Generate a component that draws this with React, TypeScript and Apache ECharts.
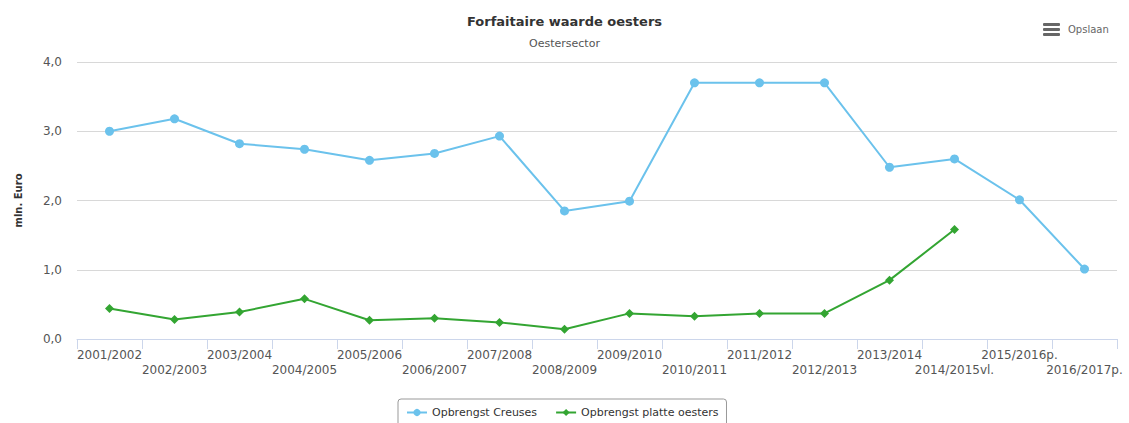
import React, { useEffect, useRef } from "react";
import * as echarts from "echarts";

const categories = [
  "2001/2002", "2002/2003", "2003/2004", "2004/2005", "2005/2006", "2006/2007",
  "2007/2008", "2008/2009", "2009/2010", "2010/2011", "2011/2012", "2012/2013",
  "2013/2014", "2014/2015vl.", "2015/2016p.", "2016/2017p.",
];
const creuses = [3.0, 3.18, 2.82, 2.74, 2.58, 2.68, 2.93, 1.85, 1.99, 3.7, 3.7, 3.7, 2.48, 2.6, 2.01, 1.01];
const platte = [0.44, 0.28, 0.39, 0.58, 0.27, 0.3, 0.24, 0.14, 0.37, 0.33, 0.37, 0.37, 0.85, 1.58, null, null];
const seriesNames = ["Opbrengst Creuses", "Opbrengst platte oesters"];
const titleText = "Forfaitaire waarde oesters";
const subtitleText = "Oestersector";
const yAxisName = "mln. Euro";

const FONT = "'DejaVu Sans', Verdana, sans-serif";

export default function App() {
  const ref = useRef<HTMLDivElement>(null);
  useEffect(() => {
    if (!ref.current) return;
    const chart = echarts.init(ref.current, undefined, { renderer: "svg" });
    chart.setOption({
      animation: false,
      textStyle: { fontFamily: FONT },
      title: [
        {
          text: titleText,
          left: "center",
          top: 10,
          textStyle: { fontFamily: FONT, fontSize: 13, fontWeight: "bold", color: "#333" },
        },
        {
          text: subtitleText,
          left: "center",
          top: 33,
          textStyle: { fontFamily: FONT, fontSize: 11, fontWeight: "normal", color: "#555" },
        },
      ],
      legend: {
        data: seriesNames,
        left: 398,
        top: 399,
        padding: [8, 8, 8, 8],
        itemGap: 18,
        itemWidth: 20,
        itemHeight: 9,
        borderColor: "#999",
        borderWidth: 1,
        borderRadius: 3,
        textStyle: { fontFamily: FONT, fontSize: 11, color: "#333" },
      },
      grid: { left: 77, right: 12, top: 62, bottom: 84, containLabel: false },
      xAxis: {
        type: "category",
        data: categories,
        boundaryGap: true,
        axisLine: { lineStyle: { color: "#ccd6eb" } },
        axisTick: { show: true, length: 10, lineStyle: { color: "#ccd6eb" }, alignWithLabel: false },
        axisLabel: {
          interval: 0,
          hideOverlap: false,
          margin: 8,
          fontFamily: FONT,
          fontSize: 12,
          color: "#555",
          lineHeight: 15,
          formatter: (v: string, i: number) => (i % 2 === 1 ? "\n" + v : v),
        },
      },
      yAxis: {
        type: "value",
        min: 0,
        max: 4,
        interval: 1,
        name: yAxisName,
        nameLocation: "middle",
        nameGap: 54,
        nameRotate: 90,
        nameTextStyle: { fontFamily: FONT, fontSize: 10, fontWeight: "bold", color: "#333" },
        axisLine: { show: false },
        axisTick: { show: false },
        splitLine: { lineStyle: { color: "#d8d8d8" } },
        axisLabel: {
          margin: 15,
          fontFamily: FONT,
          fontSize: 12,
          color: "#555",
          formatter: (v: number) => v.toFixed(1).replace(".", ","),
        },
      },
      series: [
        {
          name: seriesNames[0],
          type: "line",
          data: creuses,
          color: "#6bc2ec",
          symbol: "circle",
          symbolSize: 9,
          lineStyle: { width: 2 },
        },
        {
          name: seriesNames[1],
          type: "line",
          data: platte,
          color: "#33a532",
          symbol: "diamond",
          symbolSize: 9,
          lineStyle: { width: 2 },
        },
      ],
      graphic: [
        { type: "rect", shape: { x: 1043, y: 23, width: 17, height: 3, r: 1 }, style: { fill: "#666" } },
        { type: "rect", shape: { x: 1043, y: 28, width: 17, height: 3, r: 1 }, style: { fill: "#666" } },
        { type: "rect", shape: { x: 1043, y: 33, width: 17, height: 3, r: 1 }, style: { fill: "#666" } },
        {
          type: "text",
          x: 1068,
          y: 29,
          style: { text: "Opslaan", fontFamily: FONT, fontSize: 10, fill: "#666", verticalAlign: "middle" },
        },
      ],
    });
    return () => chart.dispose();
  }, []);
  return (
    <div
      ref={ref}
      style={{ position: "absolute", left: 0, top: 0, width: 1129, height: 423, background: "#fff" }}
    />
  );
}
